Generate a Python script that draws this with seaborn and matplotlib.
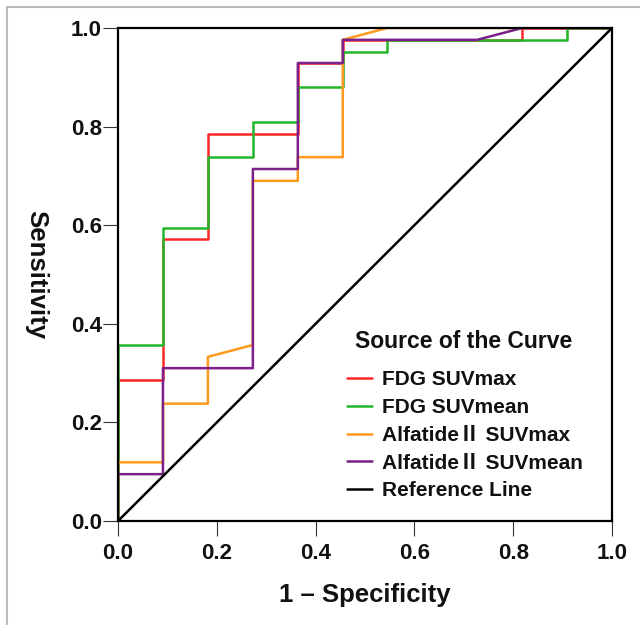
import numpy as np
import pandas as pd
import seaborn as sns
import matplotlib.pyplot as plt
from matplotlib.lines import Line2D

# ROC curve vertices (1 - specificity, sensitivity)
fdg_max_fpr = [0, 0, .091, .091, .182, .182, .364, .364, .455, .455, .818, .818, 1]
fdg_max_tpr = [0, .286, .286, .571, .571, .786, .786, .929, .929, .976, .976, 1, 1]

fdg_mean_fpr = [0, 0, .091, .091, .182, .182, .273, .273, .364, .364, .455, .455, .545, .545, .909, .909, 1]
fdg_mean_tpr = [0, .357, .357, .595, .595, .738, .738, .810, .810, .881, .881, .952, .952, .976, .976, 1, 1]

alf_max_fpr = [0, 0, .091, .091, .182, .182, .273, .273, .364, .364, .455, .455, .545, 1]
alf_max_tpr = [0, .119, .119, .238, .238, .333, .357, .690, .690, .738, .738, .976, 1, 1]

alf_mean_fpr = [0, 0, .091, .091, .273, .273, .364, .364, .455, .455, .727, .818, 1]
alf_mean_tpr = [0, .095, .095, .310, .310, .714, .714, .929, .929, .976, .976, 1, 1]

ref_fpr = [0, 1]
ref_tpr = [0, 1]

labels = ['FDG SUVmax', 'FDG SUVmean', 'Alfatide\u2161 SUVmax', 'Alfatide\u2161 SUVmean', 'Reference Line']
colors = ['#ff2626', '#22b62a', '#ff9a1c', '#7b2088', '#000000']
curves = [(fdg_max_fpr, fdg_max_tpr), (fdg_mean_fpr, fdg_mean_tpr),
          (alf_max_fpr, alf_max_tpr), (alf_mean_fpr, alf_mean_tpr),
          (ref_fpr, ref_tpr)]

sns.set_style('white')
plt.rcParams['font.family'] = ['Liberation Sans', 'Noto Sans CJK SC', 'DejaVu Sans']
plt.rcParams['font.weight'] = 'bold'

fig = plt.figure(figsize=(6.4, 6.25), dpi=100)
W, H = 640, 625
ax = fig.add_axes([118 / W, 1 - 521 / H, (612 - 118) / W, (521 - 28) / H])

for (fpr, tpr), name, col in zip(curves, labels, colors):
    df = pd.DataFrame({'fpr': fpr, 'tpr': tpr})
    sns.lineplot(data=df, x='fpr', y='tpr', sort=False, estimator=None,
                 color=col, lw=1.8, label=name, ax=ax)

ax.set_xlim(0, 1)
ax.set_ylim(0, 1)
ticks = np.linspace(0, 1, 6)
ax.set_xticks(ticks)
ax.set_yticks(ticks)
ax.set_xticklabels([f'{t:.1f}' for t in ticks])
ax.set_yticklabels([f'{t:.1f}' for t in ticks])
ax.tick_params(axis='both', direction='out', length=11, width=0.8,
               color='#333333', labelsize=16, labelcolor='#111111')
ax.tick_params(axis='y', pad=0.5)
ax.tick_params(axis='x', pad=5)
ax.tick_params(left=True, bottom=True)
for sp in ax.spines.values():
    sp.set_color('black')
    sp.set_linewidth(1.6)

ax.set_xlabel('1 \u2013 Specificity', fontsize=18.5, fontweight='bold', color='#111111')
ax.set_ylabel('Sensitivity', fontsize=18.5, fontweight='bold', color='#111111')
ax.xaxis.label.set(va='center')
ax.yaxis.label.set(rotation=270, va='center', ha='center', rotation_mode='default')
ax.xaxis.set_label_coords(0.5, -0.150)
ax.yaxis.set_label_coords(-0.165, 0.5)

# legend title drawn on its own, entries below it
ax.text(0.699, 0.365, 'Source of the Curve', transform=ax.transAxes,
        ha='center', va='center', fontsize=16.5, fontweight='bold', color='#111111')
leg = ax.legend(loc='upper left', bbox_to_anchor=(0.4636, 0.3055), frameon=False,
                borderpad=0, borderaxespad=0, fontsize=15,
                handlelength=1.2, handletextpad=0.48, labelspacing=0.42)
for txt in leg.get_texts():
    txt.set_color('#111111')

# light grey frame around the picture
fig.add_artist(Line2D([7 / W, 1], [1 - 7 / H, 1 - 7 / H], color='#bbbbbb', lw=1.5))
fig.add_artist(Line2D([7 / W, 7 / W], [0, 1 - 7 / H], color='#bbbbbb', lw=1.5))

fig.savefig('out.png', dpi=100)
